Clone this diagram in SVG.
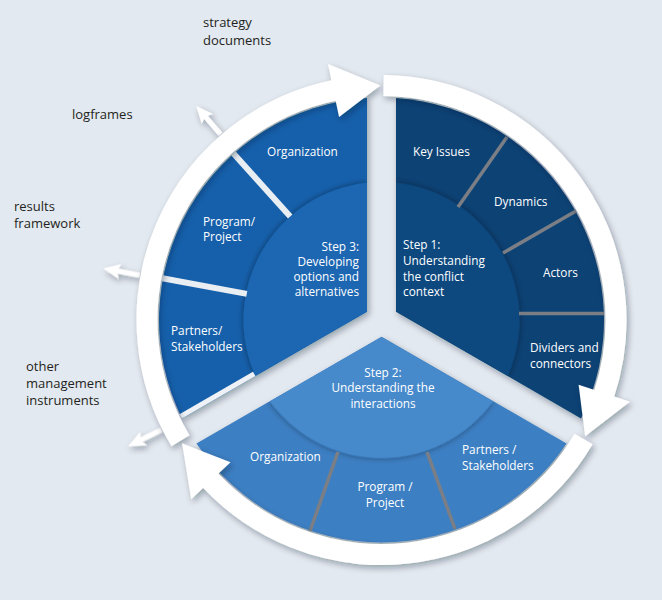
<svg xmlns="http://www.w3.org/2000/svg" width="662" height="600" viewBox="0 0 662 600">
<style>
.lbl{font-family:'Open Sans','Liberation Sans',sans-serif;font-size:13px;fill:#231f20}
.in{font-family:'Open Sans','Liberation Sans',sans-serif;font-size:11.8px;fill:#ffffff}
.mid{text-anchor:middle}
.end{text-anchor:end}
.band{fill:none;stroke:#ffffff;stroke-width:21}
.head{fill:#ffffff}
.gdiv{stroke:#7b7f85;stroke-width:3.5}
.wdiv{stroke:#e9eef3;stroke-width:6}
</style>
<defs>
<filter id="sh" x="-20%" y="-20%" width="140%" height="140%"><feDropShadow dx="2" dy="3" stdDeviation="3" flood-color="#0a1a2e" flood-opacity="0.35"/></filter>
<filter id="glow" x="-20%" y="-20%" width="140%" height="140%"><feDropShadow dx="0" dy="0" stdDeviation="3" flood-color="#000000" flood-opacity="0.45"/></filter>
<path id="ow" d="M 367 311.63 L 367 97.97 A 222.5 222.5 0 0 0 181.97 418.46 Z"/>
<path id="iw" d="M 367 311.63 L 367 182.76 A 138 138 0 0 0 255.40 376.06 Z"/>
<clipPath id="cw"><use href="#ow"/></clipPath>
<polygon id="oa" points="0,-2.5 22,-2.5 20,-7.5 37,0 20,7.5 22,2.5 0,2.5"/>
</defs>
<rect width="662" height="600" fill="#e3e9f0"/>

<g id="labels-outside">
<text class="lbl" x="203" y="27">strategy</text>
<text class="lbl" x="203" y="44.5">documents</text>
<text class="lbl" x="72" y="119">logframes</text>
<text class="lbl" x="14" y="211">results</text>
<text class="lbl" x="14" y="228">framework</text>
<text class="lbl" x="26" y="371">other</text>
<text class="lbl" x="26" y="388">management</text>
<text class="lbl" x="26" y="405">instruments</text>
</g>

<g id="step3">
<g filter="url(#sh)"><use href="#ow" fill="#1560ab"/></g>
<g clip-path="url(#cw)"><use href="#iw" fill="#1a66b2" filter="url(#glow)"/></g>
<line class="wdiv" x1="290.2" y1="216.4" x2="233.3" y2="153.3"/>
<line class="wdiv" x1="246.8" y1="293.9" x2="161" y2="278"/>
<line x1="254.2" y1="373.9" x2="180.7" y2="416.3" stroke="#eef2f6" stroke-width="5"/>
<text class="in" x="267" y="156">Organization</text>
<text class="in" x="203" y="226">Program/</text>
<text class="in" x="203" y="241">Project</text>
<text class="in" x="171" y="335">Partners/</text>
<text class="in" x="171" y="350.5">Stakeholders</text>
<text class="in end" x="359" y="251">Step 3:</text>
<text class="in end" x="359" y="266">Developing</text>
<text class="in end" x="359" y="281">options and</text>
<text class="in end" x="359" y="296">alternatives</text>
</g>

<g id="step1">
<g filter="url(#sh)"><use href="#ow" transform="rotate(120 381.5 320)" fill="#0e4275"/></g>
<g transform="rotate(120 381.5 320)"><g clip-path="url(#cw)"><use href="#iw" fill="#11487f" filter="url(#glow)"/></g></g>
<line class="gdiv" x1="458" y1="207" x2="507" y2="137"/>
<line class="gdiv" x1="503" y1="253" x2="576" y2="211"/>
<line class="gdiv" x1="519" y1="313.5" x2="604" y2="313.5"/>
<text class="in" x="413" y="156">Key Issues</text>
<text class="in" x="494" y="206">Dynamics</text>
<text class="in" x="543" y="277">Actors</text>
<text class="in" x="530" y="352">Dividers and</text>
<text class="in" x="530" y="367.5">connectors</text>
<text class="in" x="403" y="249">Step 1:</text>
<text class="in" x="403" y="265">Understanding</text>
<text class="in" x="403" y="280.5">the conflict</text>
<text class="in" x="403" y="296">context</text>
</g>

<g id="step2">
<g filter="url(#sh)"><use href="#ow" transform="rotate(240 381.5 320)" fill="#3d7fc3"/></g>
<g transform="rotate(240 381.5 320)"><g clip-path="url(#cw)"><use href="#iw" fill="#468acc" filter="url(#glow)"/></g></g>
<line class="gdiv" x1="338" y1="452" x2="310" y2="531"/>
<line class="gdiv" x1="427" y1="452" x2="455" y2="529"/>
<text class="in mid" x="383" y="376.5">Step 2:</text>
<text class="in mid" x="383" y="392">Understanding the</text>
<text class="in mid" x="383" y="407.5">interactions</text>
<text class="in" x="250" y="461">Organization</text>
<text class="in mid" x="385" y="491">Program /</text>
<text class="in mid" x="385" y="506.5">Project</text>
<text class="in" x="462" y="454">Partners /</text>
<text class="in" x="462" y="469.5">Stakeholders</text>
</g>

<g id="connectors">
<g filter="url(#sh)">
<use href="#oa" class="head" transform="translate(381.5 320) rotate(229.1) translate(246 0)"/>
<use href="#oa" class="head" transform="translate(381.5 320) rotate(190.5) translate(246 0)"/>
<use href="#oa" class="head" transform="translate(381.5 320) rotate(153.5) translate(246 0)"/>
</g>
<g filter="url(#sh)">
<path class="band" d="M 180.49 440.78 A 234.5 234.5 0 0 1 334.75 90.21"/>
<polygon class="head" points="328.02,64.03 380.27,85.50 339.07,116.88"/>
<path class="band" d="M 383.55 85.51 A 234.5 234.5 0 0 1 603.88 394.41"/>
<polygon class="head" points="629.92,401.68 585.19,436.19 578.62,384.81"/>
<path class="band" d="M 583.55 439.02 A 234.5 234.5 0 0 1 210.0 479.93"/>
<polygon class="head" points="191.19,499.34 182.2,443.57 230.49,462.31"/>
</g>
</g>
</svg>
